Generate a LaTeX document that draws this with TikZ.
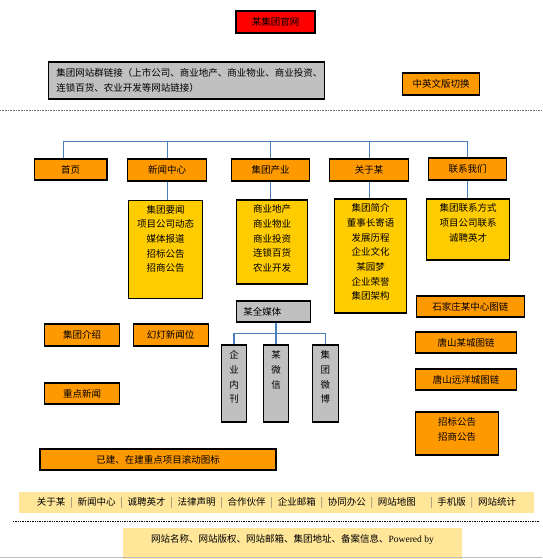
\documentclass[tikz,border=0pt]{standalone}
\usepackage{fontspec}
\setmainfont{Liberation Serif}
\newfontfamily\cjk{Noto Sans CJK SC}
\usetikzlibrary{calc}
\definecolor{orangebox}{HTML}{FF9900}
\definecolor{yellowbox}{HTML}{FFCC00}
\definecolor{graybox}{HTML}{C0C0C0}
\definecolor{redbox}{HTML}{FF0000}
\definecolor{footbar}{HTML}{FFE699}
\definecolor{connblue}{HTML}{4A7EBB}
\newcommand{\fsep}{\enspace\textcolor{black!55}{|}\enspace}
\begin{document}
\begin{tikzpicture}[x=1pt,y=-1pt,
  every node/.style={font=\cjk\fontsize{9.5}{14.7}\selectfont, inner sep=0pt},
  bx/.style={draw=black, line width=1.1pt, rectangle, align=center},
  obox/.style={bx, fill=orangebox},
  ybox/.style={bx, fill=yellowbox},
  gbox/.style={bx, fill=graybox},
  rbox/.style={bx, fill=redbox},
  conn/.style={draw=connblue, line width=1.1pt},
  txt/.style={align=center, anchor=north}
]
\useasboundingbox (0,0) rectangle (542,559);
\fill[white] (0,0) rectangle (542,559);

% top
\node[rbox, minimum width=79pt, minimum height=22pt] (title) at (275.5,22) {某集团官网};
\node[gbox, minimum width=276pt, minimum height=37pt] (links) at (186.6,80.5) {};
\node[align=left, anchor=west] (linkstxt) at ($(links.west)+(8,0)$) {集团网站群链接（上市公司、商业地产、商业物业、商业投资、\\连锁百货、农业开发等网站链接）};
\node[obox, minimum width=77pt, minimum height=22pt] (lang) at (441,84) {中英文版切换};

\draw[black!55, line width=1pt, dash pattern=on 1pt off 0.6pt] (0,110.5) -- (542,110.5);

% navigation
\node[obox, minimum width=72.6pt, minimum height=21pt] (home) at (70.7,169.5) {首页};
\node[obox, minimum width=78.6pt, minimum height=22pt] (news) at (167.2,170) {新闻中心};
\node[obox, minimum width=78.4pt, minimum height=22pt] (ind) at (270.5,170) {集团产业};
\node[obox, minimum width=78.4pt, minimum height=22pt] (about) at (369.1,170) {关于某};
\node[obox, minimum width=78.8pt, minimum height=22pt] (contact) at (467.5,169) {联系我们};

\coordinate (bus) at (0,141.5);
\draw[conn] ($(home.north)+(-7.2,0)$) |- (bus -| contact.north) -- (contact.north);
\draw[conn] (news.north) -- (news.north |- bus);
\draw[conn] (ind.north) -- (ind.north |- bus);
\draw[conn] (about.north) -- (about.north |- bus);

% sub boxes
\node[ybox, minimum width=73.6pt, minimum height=98pt] (newssub) at (165.6,249.5) {};
\node[txt] (newstxt) at ($(newssub.north)+(0,5)$) {集团要闻\\项目公司动态\\媒体报道\\招标公告\\招商公告};
\node[ybox, minimum width=71.2pt, minimum height=84pt] (indsub) at (272,242) {};
\node[txt] (indtxt) at ($(indsub.north)+(0,5)$) {商业地产\\商业物业\\商业投资\\连锁百货\\农业开发};
\node[ybox, minimum width=71.6pt, minimum height=114pt] (aboutsub) at (370.5,256) {};
\node[txt] (abouttxt) at ($(aboutsub.north)+(0,5)$) {集团简介\\董事长寄语\\发展历程\\企业文化\\某园梦\\企业荣誉\\集团架构};
\node[ybox, minimum width=83.3pt, minimum height=61pt] (contactsub) at (468,229.5) {};
\node[txt] (contacttxt) at ($(contactsub.north)+(0,5)$) {集团联系方式\\项目公司联系\\诚聘英才};

\draw[conn] (news.south) -- (news.south |- newssub.north);
\draw[conn] (ind.south) -- (ind.south |- indsub.north);
\draw[conn] (about.south) -- (about.south |- aboutsub.north);
\draw[conn] (contact.south) -- (contact.south |- contactsub.north);

% right column
\node[obox, minimum width=108pt, minimum height=21pt] (sjz) at (470.3,306.5) {石家庄某中心图链};
\node[obox, minimum width=101.4pt, minimum height=21pt] (ts1) at (466,342.5) {唐山某城图链};
\node[obox, minimum width=101.4pt, minimum height=21pt] (ts2) at (466,379.5) {唐山远洋城图链};
\node[obox, minimum width=83.3pt, minimum height=43pt] (bid) at (457,433.5) {};
\node[txt] (bidtxt) at ($(bid.north)+(0,6)$) {招标公告\\招商公告};

% media
\node[gbox, minimum width=74.7pt, minimum height=21pt, text width=60pt, align=left] (media) at (273.4,311.5) {某全媒体};
\node[gbox, minimum width=25.7pt, minimum height=77pt] (v1) at (234,383.5) {};
\node[gbox, minimum width=25.7pt, minimum height=77pt] (v2) at (276,383.5) {};
\node[gbox, minimum width=25.7pt, minimum height=77pt] (v3) at (325.3,383.5) {};
\node[txt] (v1t) at ($(v1.north)+(0,6)$) {企\\业\\内\\刊};
\node[txt] (v2t) at ($(v2.north)+(0,6)$) {某\\微\\信};
\node[txt] (v3t) at ($(v3.north)+(0,6)$) {集\\团\\微\\博};
\draw[conn] (v1.north) -- ++(0,-11) -| (v3.north);
\draw[conn] (media.south -| v2.north) -- (v2.north);

% left column
\node[obox, minimum width=75.3pt, minimum height=22pt] (intro) at (82.1,335) {集团介绍};
\node[obox, minimum width=75.3pt, minimum height=22pt] (slide) at (170.7,335) {幻灯新闻位};
\node[obox, minimum width=75.3pt, minimum height=21pt] (keynews) at (82.1,393.5) {重点新闻};
\node[obox, minimum width=236pt, minimum height=21pt] (proj) at (158,459.5) {已建、在建重点项目滚动图标};

% footer
\node[fill=footbar, minimum width=515pt, minimum height=21pt] (foot) at (276.5,502.5) {关于某\fsep 新闻中心\fsep 诚聘英才\fsep 法律声明\fsep 合作伙伴\fsep 企业邮箱\fsep 协同办公\fsep 网站地图\quad\fsep 手机版\fsep 网站统计};
\draw[black, line width=1pt, dash pattern=on 1pt off 0.7pt] (13,521) -- (540,521);
\node[fill=footbar, minimum width=339pt, minimum height=31pt] (copy) at (292,543.5) {};
\node (copytxt) at (292.5,539) {网站名称、网站版权、网站邮箱、集团地址、备案信息、{\rmfamily Powered by}};
\draw[black!25, line width=1.5pt] (0,557.5) -- (542,557.5);
\end{tikzpicture}
\end{document}
